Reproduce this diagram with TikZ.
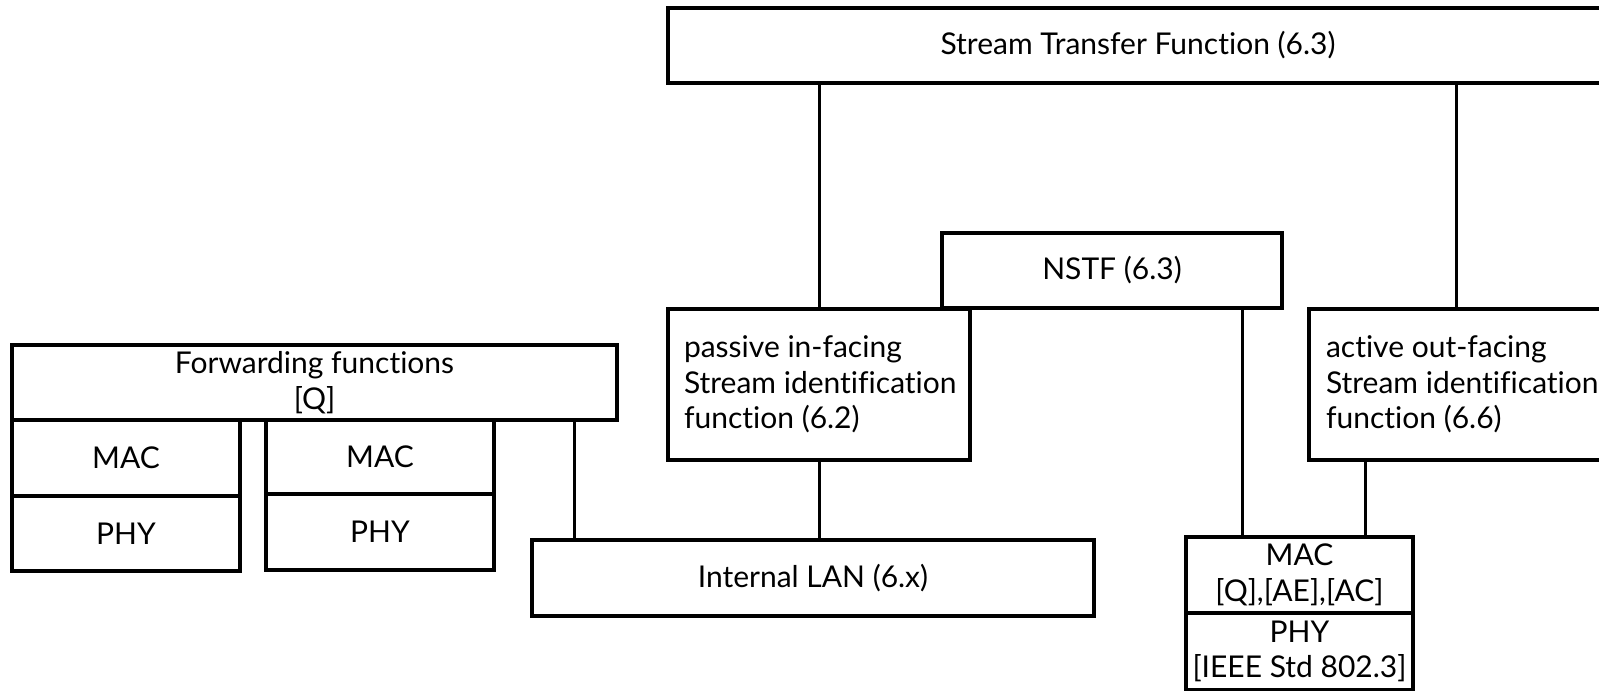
\documentclass[tikz,border=0pt]{standalone}
\usepackage{fontspec}
\setmainfont{Lato}[Ligatures=NoCommon]
\usetikzlibrary{calc}
\begin{document}
\begin{tikzpicture}[x=1pt,y=-1pt,
  box/.style={draw, line width=3.4pt, rectangle, inner sep=0pt,
    font=\fontsize{30}{35.5}\selectfont, align=center},
  leftbox/.style={box, text width=270pt, align=flush left},
  link/.style={line width=3pt}]
\useasboundingbox (0,0) rectangle (1599,691);
\clip (0,0) rectangle (1599,691);

% upper functions
\node[box, minimum width=940pt, minimum height=75pt] (stf) at (1138,45.5) {Stream Transfer Function (6.3)};
\node[box, minimum width=340pt, minimum height=75pt] (nstf) at (1112,270.5) {NSTF (6.3)};
\node[leftbox, minimum width=302pt, minimum height=151pt] (passive) at (819,384.5)
  {\mbox{passive in-facing}\\\mbox{Stream identification}\\\mbox{function (6.2)}};
\node[leftbox, minimum width=304pt, minimum height=151pt] (active) at (1461,384.5)
  {\mbox{active out-facing}\\\mbox{Stream identification}\\\mbox{function (6.6)}};

% forwarding side
\node[box, minimum width=605pt, minimum height=75pt] (fwd) at (314.5,382.5) {Forwarding functions\\{[Q]}};
\node[box, minimum width=228pt, minimum height=76pt] (mac1) at (126,458) {MAC};
\node[box, minimum width=228pt, minimum height=75pt] (phy1) at (126,533.5) {PHY};
\node[box, minimum width=228pt, minimum height=74pt] (mac2) at (380,457) {MAC};
\node[box, minimum width=228pt, minimum height=76pt] (phy2) at (380,532) {PHY};

% LANs and ports
\node[box, minimum width=562pt, minimum height=76pt] (lan) at (813,578) {Internal LAN (6.x)};
\node[box, minimum width=227pt, minimum height=76pt] (macr) at (1299.5,575) {MAC\\{[Q],[AE],[AC]}};
\node[box, minimum width=227pt, minimum height=77pt] (phyr) at (1299.5,651.5) {PHY\\{[IEEE Std 802.3]}};

% connectors
\draw[link] (passive.north) -- (passive.north |- stf.south);
\coordinate (aup) at ($(active.north west)+(149,0)$);
\draw[link] (aup) -- (aup |- stf.south);
\coordinate (nd) at ($(macr.north west)+(58,0)$);
\draw[link] (nd) -- (nd |- nstf.south);
\coordinate (ad) at ($(macr.north west)+(181,0)$);
\draw[link] (ad) -- (ad |- active.south);
\coordinate (fd) at ($(lan.north west)+(44,0)$);
\draw[link] (fd) -- (fd |- fwd.south);
\draw[link] (passive.south) -- (passive.south |- lan.north);
\end{tikzpicture}
\end{document}
